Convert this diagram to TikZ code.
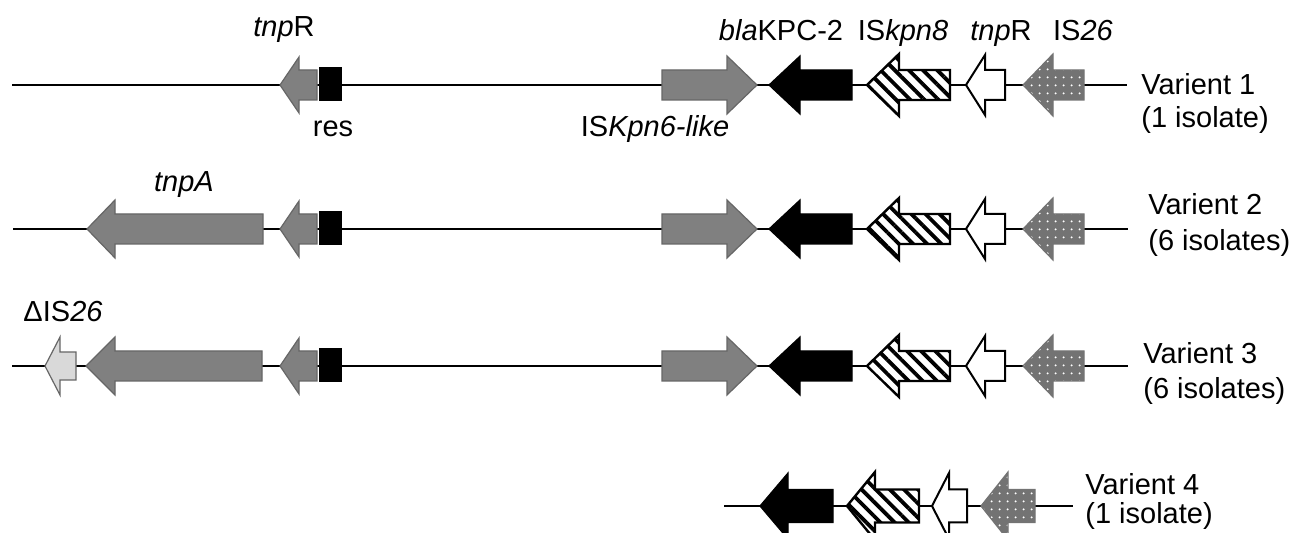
\documentclass[tikz,border=0pt]{standalone}
\usepackage{fontspec}
\setmainfont{Liberation Sans}
\usetikzlibrary{patterns.meta}

\tikzset{
  backbone/.style={line width=1pt},
  lbl/.style={inner sep=0pt, font=\fontsize{14.5}{17}\selectfont},
  isgray/.style={fill=gray, draw=black!60, line width=0.6pt},
  pale/.style={fill=black!15, draw=black!60, line width=0.6pt},
  kpc/.style={fill=black, draw=black, line width=0.6pt},
  hatched/.style={draw=black, line width=1.2pt, preaction={fill=white},
    pattern={Lines[angle=-45,distance=5pt,line width=1.9pt]}},
  hollow/.style={fill=white, draw=black, line width=1pt},
  speckled/.style={draw=black!55, line width=0.6pt, preaction={fill=black!55},
    pattern={Dots[distance=4pt,radius=0.6pt]}, pattern color=white},
  resbox/.style={fill=black, draw=black, line width=0.6pt}
}

% tip x, head base x, body end x, centre y, half body, half head
\newcommand{\gene}[7]{%
  \draw[#1] (#2,#5) -- (#3,#5-#7) -- (#3,#5-#6) -- (#4,#5-#6)
    -- (#4,#5+#6) -- (#3,#5+#6) -- (#3,#5+#7) -- cycle;}

\begin{document}
\begin{tikzpicture}[x=0.5pt, y=-0.5pt]
  \useasboundingbox (0,0) rectangle (1298,533);

  % backbones
  \coordinate (a1) at (12,85);   \coordinate (b1) at (1127,85);
  \coordinate (a2) at (13,229);  \coordinate (b2) at (1128,229);
  \coordinate (a3) at (12,366);  \coordinate (b3) at (1128,366);
  \coordinate (a4) at (724,506); \coordinate (b4) at (1073,506);
  \draw[backbone] (a1) -- (b1);
  \draw[backbone] (a2) -- (b2);
  \draw[backbone] (a3) -- (b3);
  \draw[backbone] (a4) -- (b4);

  % common cluster, variants 1-3
  \foreach \c in {85,229,366} {
    \gene{isgray}{757}{727}{662}{\c}{15}{29}
    \gene{kpc}{769}{800}{852}{\c}{15}{29}
    \gene{hatched}{867}{899}{950}{\c}{15}{31}
    \gene{hollow}{966}{985}{1005}{\c}{15}{30}
    \gene{speckled}{1023}{1053}{1084}{\c}{15}{31}
    \gene{isgray}{280}{299}{317}{\c}{15}{28}
    \draw[resbox] (320,\c-17) rectangle (341,\c+15);
  }

  % tnpA and deleted IS26
  \gene{isgray}{87}{115}{263}{229}{15}{29}
  \gene{isgray}{86}{115}{262}{366}{15}{29}
  \gene{pale}{45}{60}{76}{366}{14}{29}

  % variant 4
  \gene{kpc}{760}{788}{833}{506}{16.5}{33}
  \gene{hatched}{847}{875}{919}{506}{16.5}{34}
  \gene{hollow}{932}{949}{967}{506}{16.5}{33}
  \gene{speckled}{981}{1008}{1035}{506}{16.5}{34}

  % gene labels
  \node[lbl, anchor=base] (tnpr1) at (284,37) {\textit{tnp}R};
  \node[lbl, anchor=base] (res) at (333,137) {res};
  \node[lbl, anchor=base] (kpn6) at (655,137) {IS\textit{Kpn6-like}};
  \node[lbl, anchor=base] (kpc) at (781,41) {\textit{bla}KPC-2};
  \node[lbl, anchor=base] (kpn8) at (903,41) {IS\textit{kpn8}};
  \node[lbl, anchor=base] (tnpr2) at (1001,41) {\textit{tnp}R};
  \node[lbl, anchor=base] (is26) at (1083,41) {IS\textit{26}};
  \node[lbl, anchor=base] (tnpa) at (184,192) {\textit{tnpA}};
  \node[lbl, anchor=base] (dis26) at (63,322) {ΔIS\textit{26}};

  % variant labels
  \node[lbl, anchor=base west] (v1a) at (1141,95) {Varient 1};
  \node[lbl, anchor=base west] (v1b) at (1141,128) {(1 isolate)};
  \node[lbl, anchor=base west] (v2a) at (1148,215) {Varient 2};
  \node[lbl, anchor=base west] (v2b) at (1148,251) {(6 isolates)};
  \node[lbl, anchor=base west] (v3a) at (1143,364) {Varient 3};
  \node[lbl, anchor=base west] (v3b) at (1143,399) {(6 isolates)};
  \node[lbl, anchor=base west] (v4a) at (1085,495) {Varient 4};
  \node[lbl, anchor=base west] (v4b) at (1085,524) {(1 isolate)};
\end{tikzpicture}
\end{document}
